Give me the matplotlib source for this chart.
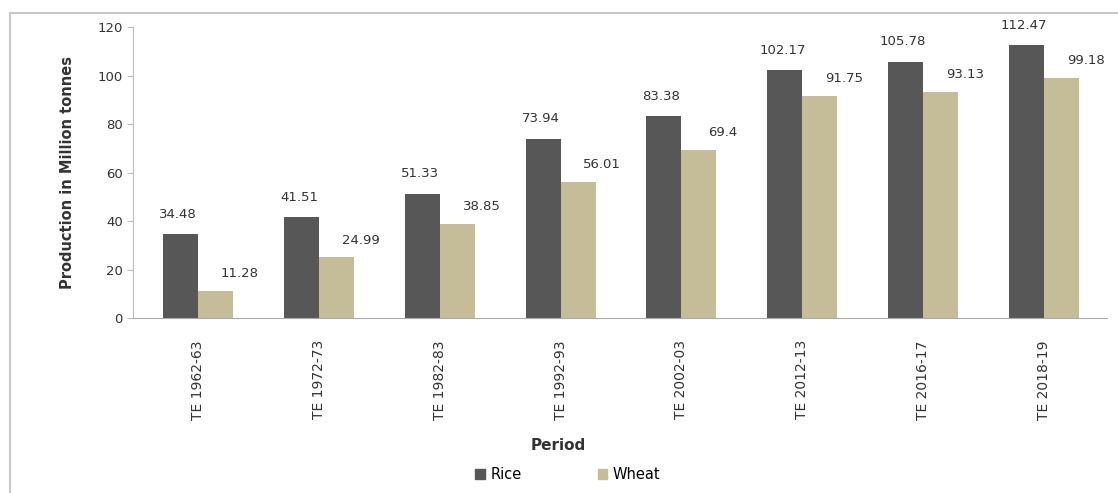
import numpy as np
import matplotlib.pyplot as plt
from matplotlib.lines import Line2D
from matplotlib.patches import Patch

# Production of rice and wheat, triennium ending averages
periods = ['TE 1962-63', 'TE 1972-73', 'TE 1982-83', 'TE 1992-93',
           'TE 2002-03', 'TE 2012-13', 'TE 2016-17', 'TE 2018-19']
rice = [34.48, 41.51, 51.33, 73.94, 83.38, 102.17, 105.78, 112.47]
wheat = [11.28, 24.99, 38.85, 56.01, 69.4, 91.75, 93.13, 99.18]
rice_labels = ['34.48', '41.51', '51.33', '73.94', '83.38', '102.17', '105.78', '112.47']
wheat_labels = ['11.28', '24.99', '38.85', '56.01', '69.4', '91.75', '93.13', '99.18']

rice_color = '#575757'
wheat_color = '#c4bd97'
text_color = '#333333'

plt.rcParams['font.family'] = ['DejaVu Sans']

fig = plt.figure(figsize=(11.18, 4.93), dpi=100)
ax = fig.add_axes([0.119, 0.355, 0.871, 0.59])

x = np.arange(len(periods))
w = 0.29
ax.bar(x - w / 2, rice, width=w, color=rice_color, label='Rice')
ax.bar(x + w / 2, wheat, width=w, color=wheat_color, label='Wheat')

# value labels: rice centred on its bar, wheat shifted right of its bar
for i in range(len(periods)):
    ax.text(x[i] - w / 2 - 0.02, rice[i] + 5.5, rice_labels[i], ha='center', va='bottom',
            fontsize=9.5, color=text_color)
    ax.text(x[i] + w / 2 + 0.2, wheat[i] + 4.5, wheat_labels[i], ha='center', va='bottom',
            fontsize=9.5, color=text_color)

ax.set_xlim(-0.538, 7.52)
ax.set_ylim(0, 120)
ax.set_yticks(range(0, 121, 20))
ax.set_xticks(x)
ax.set_xticklabels(periods, rotation=90, fontsize=10, color=text_color)
ax.tick_params(axis='y', labelsize=9.5, colors=text_color, length=4, color='#bbbbbb')
ax.tick_params(axis='x', length=0, pad=16)

for side in ['top', 'right']:
    ax.spines[side].set_visible(False)
ax.spines['left'].set_color('#bbbbbb')
ax.spines['bottom'].set_color('#aaaaaa')

ax.set_ylabel('Production in Million tonnes', fontsize=10.5, fontweight='bold',
              color='#333333', labelpad=16)
fig.text(0.499, 0.097, 'Period', ha='center', va='center', fontsize=11,
         fontweight='bold', color='#333333')

handles = [Patch(color=rice_color), Patch(color=wheat_color)]
fig.legend(handles, ['Rice', 'Wheat'], loc='center', bbox_to_anchor=(0.508, 0.037),
           ncol=2, frameon=False, fontsize=10.5, handlelength=0.65, handleheight=0.65,
           handletextpad=0.4, columnspacing=5.2)

# outer chart frame, top and left edges
fig.add_artist(Line2D([0.009, 1.0], [0.974, 0.974], transform=fig.transFigure,
                      color='#c8c8c8', lw=1.5))
fig.add_artist(Line2D([0.009, 0.009], [0.0, 0.974], transform=fig.transFigure,
                      color='#c8c8c8', lw=1.5))

fig.savefig('out.png', dpi=100)
